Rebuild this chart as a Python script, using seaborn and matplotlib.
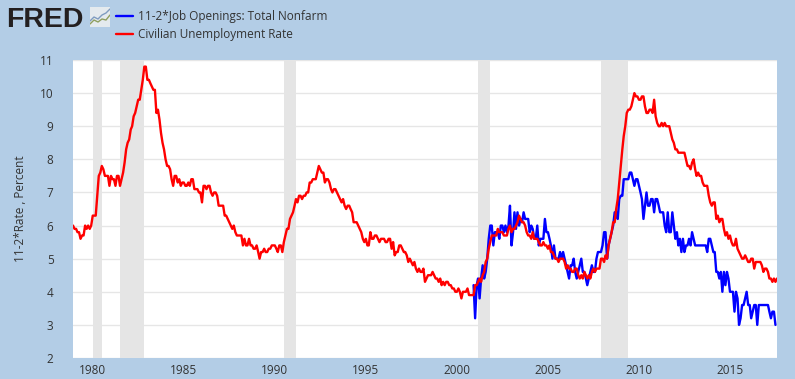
import matplotlib
matplotlib.use("Agg")
import matplotlib.pyplot as plt
import pandas as pd
import seaborn as sns
from matplotlib.lines import Line2D

# civilian unemployment rate, monthly, 1978-12 to 2017-08
unrate = [6.0,
    5.9,5.9,5.8,5.8,5.6,5.7,5.7,6.0,5.9,6.0,5.9,6.0,
    6.3,6.3,6.3,6.9,7.5,7.6,7.8,7.7,7.5,7.5,7.5,7.2,
    7.5,7.4,7.4,7.2,7.5,7.5,7.2,7.4,7.6,7.9,8.3,8.5,
    8.6,8.9,9.0,9.3,9.4,9.6,9.8,9.8,10.1,10.4,10.8,10.8,
    10.4,10.4,10.3,10.2,10.1,10.1,9.4,9.5,9.2,8.8,8.5,8.3,
    8.0,7.8,7.8,7.7,7.4,7.2,7.5,7.5,7.3,7.4,7.2,7.3,
    7.3,7.2,7.2,7.3,7.2,7.4,7.4,7.1,7.1,7.1,7.0,7.0,
    6.7,7.2,7.2,7.1,7.2,7.2,7.0,6.9,7.0,7.0,6.9,6.6,
    6.6,6.6,6.6,6.3,6.3,6.2,6.1,6.0,5.9,6.0,5.8,5.7,
    5.7,5.7,5.7,5.4,5.6,5.4,5.4,5.6,5.4,5.4,5.3,5.3,
    5.4,5.2,5.0,5.2,5.2,5.3,5.2,5.2,5.3,5.3,5.4,5.4,
    5.4,5.3,5.2,5.4,5.4,5.2,5.5,5.7,5.9,5.9,6.2,6.3,
    6.4,6.6,6.8,6.7,6.9,6.9,6.8,6.9,6.9,7.0,7.0,7.3,
    7.3,7.4,7.4,7.4,7.6,7.8,7.7,7.6,7.6,7.3,7.4,7.4,
    7.3,7.1,7.0,7.1,7.1,7.0,6.9,6.8,6.7,6.8,6.6,6.5,
    6.6,6.6,6.5,6.4,6.1,6.1,6.1,6.0,5.9,5.8,5.6,5.5,
    5.6,5.4,5.4,5.8,5.6,5.6,5.7,5.7,5.6,5.5,5.6,5.6,
    5.6,5.5,5.5,5.6,5.6,5.3,5.5,5.1,5.2,5.2,5.4,5.4,
    5.3,5.2,5.2,5.1,4.9,5.0,4.9,4.8,4.9,4.7,4.6,4.7,
    4.6,4.6,4.7,4.3,4.4,4.5,4.5,4.5,4.6,4.5,4.4,4.4,
    4.3,4.4,4.2,4.3,4.2,4.3,4.3,4.2,4.2,4.1,4.1,4.0,
    4.0,4.1,4.0,3.8,4.0,4.0,4.0,4.1,3.9,3.9,3.9,3.9,
    4.2,4.2,4.3,4.4,4.3,4.5,4.6,4.9,5.0,5.3,5.5,5.7,
    5.7,5.7,5.7,5.9,5.8,5.8,5.8,5.7,5.7,5.7,5.9,6.0,
    5.8,5.9,5.9,6.0,6.1,6.3,6.2,6.1,6.1,6.0,5.8,5.7,
    5.7,5.6,5.8,5.6,5.6,5.6,5.5,5.4,5.4,5.5,5.4,5.4,
    5.3,5.4,5.2,5.2,5.1,5.0,5.0,4.9,5.0,5.0,5.0,4.9,
    4.7,4.8,4.7,4.7,4.6,4.6,4.7,4.7,4.5,4.4,4.5,4.4,
    4.6,4.5,4.4,4.5,4.4,4.6,4.7,4.6,4.7,4.7,4.7,5.0,
    5.0,4.9,5.1,5.0,5.4,5.6,5.8,6.1,6.1,6.5,6.8,7.3,
    7.8,8.3,8.7,9.0,9.4,9.5,9.5,9.6,9.8,10.0,9.9,9.9,
    9.8,9.8,9.9,9.9,9.6,9.4,9.4,9.5,9.5,9.4,9.8,9.3,
    9.1,9.0,9.0,9.1,9.0,9.1,9.0,9.0,9.0,8.8,8.6,8.5,
    8.3,8.3,8.2,8.2,8.2,8.2,8.2,8.0,7.8,7.8,7.7,7.9,
    8.0,7.7,7.5,7.6,7.5,7.5,7.3,7.2,7.2,7.2,6.9,6.7,
    6.6,6.7,6.7,6.2,6.3,6.1,6.2,6.2,5.9,5.7,5.8,5.6,
    5.7,5.5,5.4,5.4,5.6,5.3,5.2,5.1,5.0,5.0,5.1,5.0,
    4.9,4.9,5.0,5.0,4.7,4.9,4.9,4.9,4.9,4.8,4.6,4.7,
    4.7,4.6,4.4,4.4,4.3,4.4,4.3,4.4]

# 11-2*job openings, monthly, 2000-12 to 2017-07
openings = [4.2,
    3.2,4.2,4.4,3.8,4.4,4.8,4.4,4.6,5.0,5.6,6.0,6.0,
    5.4,5.8,5.8,5.8,5.6,6.0,6.0,5.8,6.0,5.8,6.0,6.6,
    5.4,5.8,6.4,5.9,6.4,6.0,6.2,6.1,6.4,6.2,6.2,6.2,
    5.8,6.0,5.9,5.6,5.6,6.0,5.4,5.6,5.6,5.6,6.2,5.8,
    5.8,5.6,5.4,5.0,5.4,5.0,5.0,5.0,5.2,5.0,5.2,5.0,
    4.8,4.6,4.4,4.8,4.8,5.0,4.6,4.4,4.6,4.8,5.0,4.6,
    4.6,4.4,4.2,4.4,4.6,4.8,4.6,4.6,5.0,5.2,5.2,5.2,
    5.4,5.8,5.8,5.0,5.4,5.6,5.8,6.0,6.4,6.4,6.2,6.8,
    6.9,6.9,7.4,7.4,7.4,7.4,7.6,7.6,7.4,7.2,7.4,7.4,
    7.2,7.0,6.8,6.2,6.6,7.0,6.6,6.6,6.8,6.8,6.4,6.8,
    6.8,6.6,6.4,6.4,6.4,6.0,5.8,6.4,5.8,5.8,6.4,6.0,
    5.6,5.8,5.4,5.6,5.2,5.6,5.2,5.4,5.4,5.6,5.4,5.8,
    5.6,5.4,5.4,5.4,5.4,5.4,5.4,5.4,5.4,5.2,5.6,5.6,
    5.4,5.2,5.2,4.6,4.6,4.4,4.6,4.0,4.6,4.2,4.6,4.4,
    4.0,4.0,4.0,3.4,4.0,3.8,3.0,3.2,3.6,3.6,3.8,4.0,
    3.6,3.6,3.2,3.4,3.6,3.6,3.0,3.6,3.6,3.6,3.6,3.6,
    3.6,3.6,3.4,3.2,3.4,3.4,3.0]

rec_start = ["1980-01-01", "1981-07-01", "1990-07-01", "2001-03-01", "2007-12-01"]
rec_end = ["1980-07-01", "1982-11-01", "1991-03-01", "2001-11-01", "2009-06-01"]
tick_years = [1980, 1985, 1990, 1995, 2000, 2005, 2010, 2015]
y_ticks = [2, 3, 4, 5, 6, 7, 8, 9, 10, 11]
names = ["11-2*Job Openings: Total Nonfarm", "Civilian Unemployment Rate"]

bg = "#b3cde6"
txt = "#333333"

sns.set_theme(style="white")
plt.rcParams["font.family"] = ["Open Sans", "DejaVu Sans"]

df = pd.concat([
    pd.DataFrame({"date": pd.date_range("2000-12-01", periods=len(openings), freq="MS"),
                  "value": openings, "series": names[0]}),
    pd.DataFrame({"date": pd.date_range("1978-12-01", periods=len(unrate), freq="MS"),
                  "value": unrate, "series": names[1]}),
])

fig = plt.figure(figsize=(7.95, 3.79), dpi=100, facecolor=bg)
ax = fig.add_axes([73 / 795, 1 - 358 / 379, 704 / 795, 298 / 379])

for a, b in zip(rec_start, rec_end):
    ax.axvspan(pd.Timestamp(a), pd.Timestamp(b), color="#e5e5e5", lw=0, zorder=1)

sns.lineplot(data=df, x="date", y="value", hue="series", hue_order=names,
             palette=["#0000ff", "#ff0000"], linewidth=1.7, legend=False, ax=ax, zorder=3)

ax.set_xlim(pd.Timestamp("1978-12-01"), pd.Timestamp("2017-08-01"))
ax.set_ylim(2, 11)
ax.set_xticks([pd.Timestamp(f"{y}-01-01") for y in tick_years])
ax.set_xticklabels(tick_years)
ax.set_yticks(y_ticks)
ax.yaxis.grid(True, color="#e6e6e6", lw=1)
ax.set_axisbelow(True)
ax.tick_params(axis="x", colors="#c0d0e0", length=3, width=1, pad=1, labelsize=8.5, labelcolor=txt)
ax.tick_params(axis="y", length=0, pad=14, labelsize=8.5, labelcolor=txt)
for s in ax.spines.values():
    s.set_visible(False)
ax.set_xlabel("")
ax.set_ylabel("")
fig.text(21 / 795, 1 - 209 / 379, "11-2*Rate , Percent", rotation=90, color=txt,
         fontsize=8.5, ha="center", va="center")

handles = [Line2D([], [], color="#0000ff", lw=1.7), Line2D([], [], color="#ff0000", lw=1.7)]
fig.legend(handles, names, loc="upper left", bbox_to_anchor=(114 / 795, 1 - 8 / 379), frameon=False,
           fontsize=8.5, labelcolor=txt, handlelength=1.4, handletextpad=0.45, labelspacing=0.42,
           borderpad=0.2, borderaxespad=0)

# logo
fig.text(6 / 795, 1 - 27 / 379, "FRED", family="Liberation Sans", weight="bold", fontsize=20.5,
         color="#231f20", ha="left", va="baseline")
icon = fig.add_axes([90 / 795, 1 - 27 / 379, 20 / 795, 20 / 379], facecolor="#e4eaee")
icon.plot([0, 2, 4, 6, 8, 10], [3, 5, 4, 6, 7, 9], color="#7f9cc0", lw=1)
icon.plot([0, 2, 4, 6, 8, 10], [1.5, 3.5, 2.5, 4, 3.5, 6], color="#8f9f60", lw=1)
icon.set_xlim(0, 10)
icon.set_ylim(0, 10)
icon.set_xticks([])
icon.set_yticks([])
for s in icon.spines.values():
    s.set_visible(False)

fig.savefig("out.png", dpi=100, facecolor=bg)
